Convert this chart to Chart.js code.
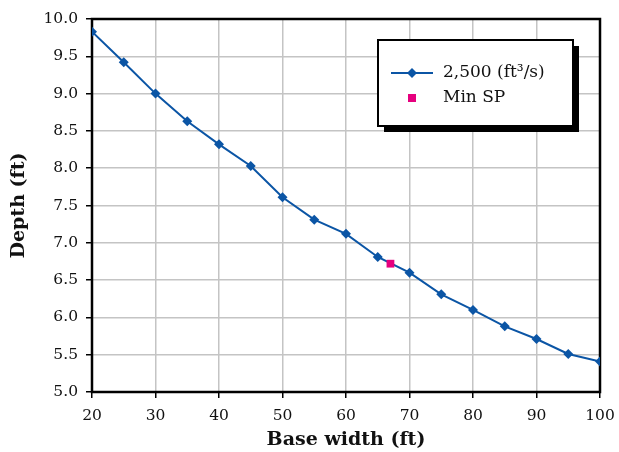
<!DOCTYPE html>
<html>
<head>
<meta charset="utf-8">
<script src="https://cdn.jsdelivr.net/npm/chart.js@4.4.1/dist/chart.umd.min.js"></script>
<style>
  html, body { margin: 0; padding: 0; background: #fff; }
  #wrap { width: 619px; height: 452px; }
</style>
</head>
<body>
<div id="wrap"><canvas id="depthChart" width="619" height="452"></canvas></div>
<script>
// --- Data ---
const baseWidths = [20, 25, 30, 35, 40, 45, 50, 55, 60, 65, 70, 75, 80, 85, 90, 95, 100];
const depths = [9.83, 9.42, 9.00, 8.63, 8.32, 8.03, 7.61, 7.31, 7.12, 6.81, 6.60, 6.31, 6.10, 5.88, 5.71, 5.51, 5.41];
const minSpWidth = [67];
const minSpDepth = [6.72];
const seriesLabels = ['2,500 (ft\u00b3/s)', 'Min SP'];

const SERIF = '"DejaVu Serif", serif';
const BLUE = '#0b55a5';
const PINK = '#e6007e';

// frame round the plot area, drawn under the markers
const frame = {
  id: 'frame',
  beforeDatasetsDraw(chart) {
    const { ctx, chartArea: a } = chart;
    ctx.save();
    ctx.strokeStyle = '#000';
    ctx.lineWidth = 2.5;
    ctx.strokeRect(a.left, a.top, a.right - a.left, a.bottom - a.top);
    ctx.restore();
  }
};

// boxed legend with a drop shadow, top right inside the plot
const boxLegend = {
  id: 'boxLegend',
  afterDraw(chart) {
    const ctx = chart.ctx;
    const x = 378, y = 40, w = 195, h = 86;
    ctx.save();
    ctx.fillStyle = '#000';
    ctx.fillRect(x + 6, y + 6, w, h);
    ctx.fillStyle = '#fff';
    ctx.fillRect(x, y, w, h);
    ctx.strokeStyle = '#000';
    ctx.lineWidth = 2;
    ctx.strokeRect(x, y, w, h);

    // line sample
    ctx.strokeStyle = BLUE;
    ctx.lineWidth = 2;
    ctx.beginPath();
    ctx.moveTo(391, 73);
    ctx.lineTo(433, 73);
    ctx.stroke();
    ctx.fillStyle = BLUE;
    ctx.beginPath();
    ctx.moveTo(412, 68); ctx.lineTo(417, 73); ctx.lineTo(412, 78); ctx.lineTo(407, 73);
    ctx.closePath();
    ctx.fill();

    // point sample
    ctx.fillStyle = PINK;
    ctx.fillRect(408, 94, 8, 8);

    ctx.fillStyle = '#111';
    ctx.font = '17px ' + SERIF;
    ctx.textBaseline = 'middle';
    ctx.fillText(chart.data.datasets[0].label, 443, 73);
    ctx.fillText(chart.data.datasets[1].label, 443, 98);
    ctx.restore();
  }
};

const ctx = document.getElementById('depthChart').getContext('2d');
new Chart(ctx, {
  type: 'scatter',
  data: {
    datasets: [
      {
        label: seriesLabels[0],
        data: baseWidths.map((w, i) => ({ x: w, y: depths[i] })),
        showLine: true,
        borderColor: BLUE,
        backgroundColor: BLUE,
        borderWidth: 2,
        pointStyle: 'rectRot',
        pointRadius: 5,
        pointBorderWidth: 0,
        order: 2
      },
      {
        label: seriesLabels[1],
        data: minSpWidth.map((w, i) => ({ x: w, y: minSpDepth[i] })),
        showLine: false,
        backgroundColor: PINK,
        borderColor: PINK,
        pointStyle: 'rect',
        pointRadius: 5.5,
        pointBorderWidth: 0,
        order: 1
      }
    ]
  },
  options: {
    responsive: false,
    animation: false,
    layout: { padding: { left: 0, right: 19, top: 19, bottom: 0 } },
    plugins: {
      legend: { display: false },
      tooltip: { enabled: false }
    },
    scales: {
      x: {
        type: 'linear',
        min: 20,
        max: 100,
        ticks: {
          stepSize: 10,
          color: '#111',
          padding: 9,
          font: { family: SERIF, size: 15.5 }
        },
        grid: { color: '#c4c4c4', lineWidth: 1.5, tickColor: '#000', tickLength: 6 },
        border: { display: false },
        title: {
          display: true,
          text: 'Base width (ft)',
          color: '#111',
          padding: { top: 0, bottom: 1 },
          font: { family: SERIF, size: 19, weight: 'bold' }
        },
        afterFit(scale) {
          scale.height = 60;
          scale.paddingLeft = 0;
          scale.paddingRight = 0;
        }
      },
      y: {
        min: 5,
        max: 10,
        ticks: {
          stepSize: 0.5,
          color: '#111',
          padding: 8,
          font: { family: SERIF, size: 15.5 },
          callback: v => v.toFixed(1)
        },
        grid: { color: '#c4c4c4', lineWidth: 1.5, tickColor: '#000', tickLength: 6 },
        border: { display: false },
        title: {
          display: true,
          text: 'Depth (ft)',
          color: '#111',
          padding: { top: 8, bottom: 0 },
          font: { family: SERIF, size: 19, weight: 'bold' }
        },
        afterFit(scale) { scale.width = 92; }
      }
    }
  },
  plugins: [frame, boxLegend]
});
</script>
</body>
</html>
